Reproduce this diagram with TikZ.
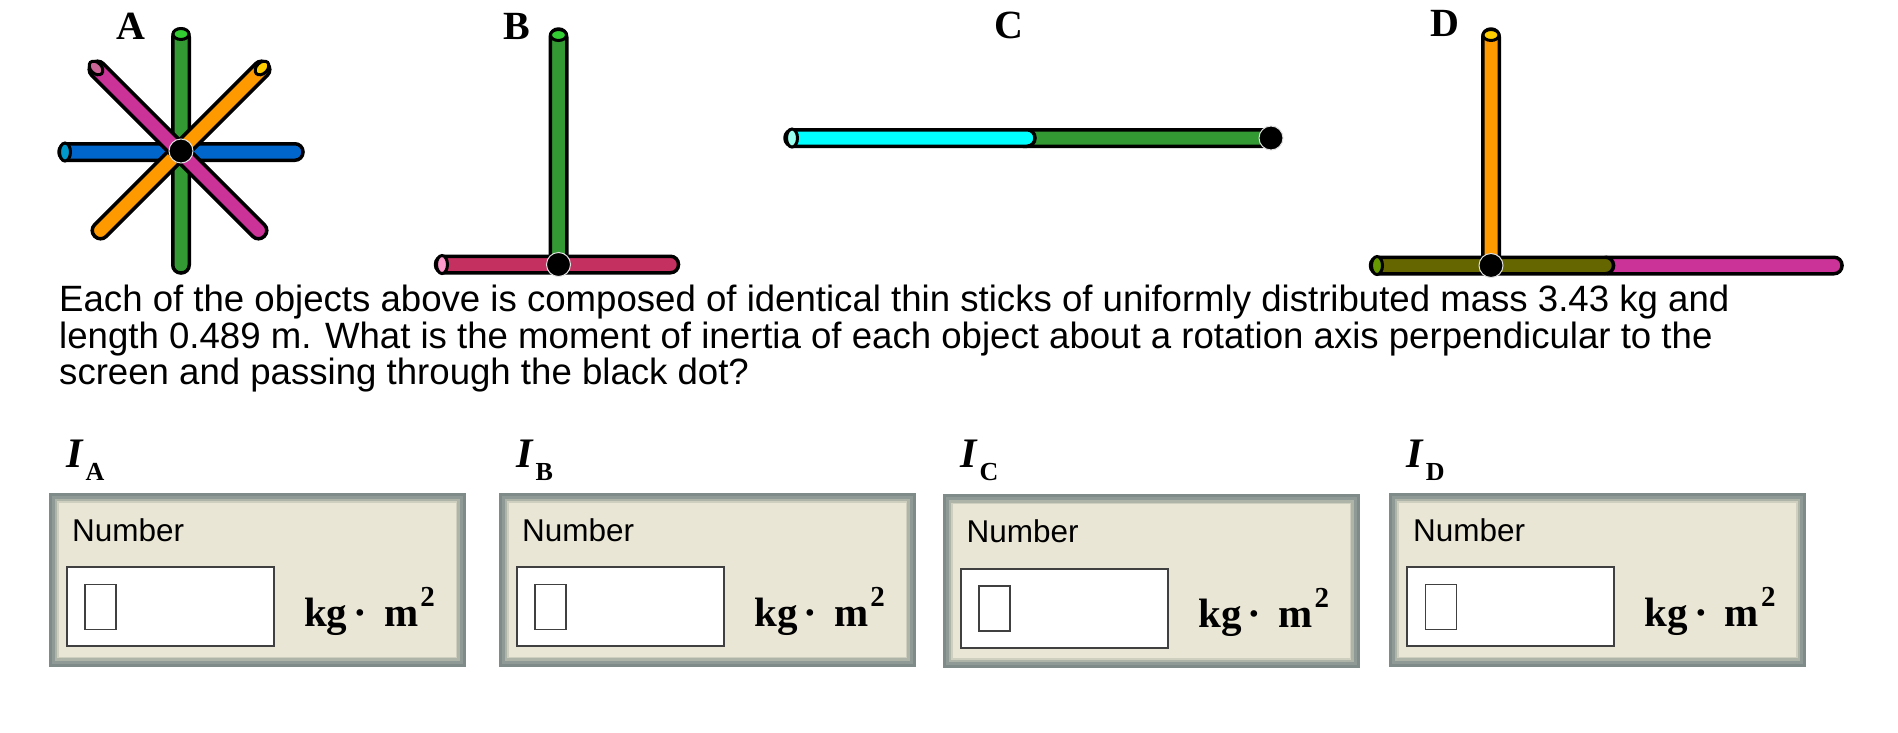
\documentclass[tikz,border=0pt]{standalone}
\usepackage{fontspec}
\usetikzlibrary{shapes.geometric}
\newfontfamily\helv{Liberation Sans}
\newfontfamily\tms{Liberation Serif}
\definecolor{stickgreen}{HTML}{339933}
\definecolor{capgreen}{HTML}{33CC33}
\definecolor{stickblue}{HTML}{0066CC}
\definecolor{capblue}{HTML}{0099CC}
\definecolor{stickmagenta}{HTML}{CC3399}
\definecolor{capmagenta}{HTML}{CC6699}
\definecolor{stickorange}{HTML}{FF9900}
\definecolor{capyellow}{HTML}{FFCC00}
\definecolor{stickcrimson}{HTML}{C43060}
\definecolor{cappink}{HTML}{FF99CC}
\definecolor{stickcyan}{HTML}{00FFFF}
\definecolor{capcyan}{HTML}{99FFEE}
\definecolor{stickolive}{HTML}{666600}
\definecolor{capolive}{HTML}{669900}
\definecolor{panelbeige}{HTML}{EAE6D6}
\definecolor{bevelone}{HTML}{7E8B89}
\definecolor{beveltwo}{HTML}{8F9A96}
\definecolor{bevelthree}{HTML}{AEB4A8}
\definecolor{bevelfour}{HTML}{CFCFC0}
\tikzset{
  stick/.style={rectangle, draw=black, line width=3.5pt, rounded corners=8pt, inner sep=0pt, minimum height=16.5pt},
  stickend/.style={ellipse, draw=black, line width=3pt, inner sep=0pt},
  pivot/.style={circle, fill=black, draw=black!12, line width=1pt, inner sep=0pt, minimum size=24pt},
  letter/.style={font=\tms\bfseries\fontsize{40}{40}\selectfont, inner sep=0pt},
  panel/.style={rectangle, inner sep=0pt, minimum width=397pt, minimum height=154pt, fill=panelbeige,
    preaction={draw=bevelone, line width=20pt},
    preaction={draw=beveltwo, line width=14pt},
    preaction={draw=bevelthree, line width=8pt},
    preaction={draw=bevelfour, line width=3.5pt}},
  field/.style={rectangle, draw=black!75, fill=white, line width=2pt, inner sep=0pt, minimum width=207pt, minimum height=79pt},
  glyphbox/.style={rectangle, draw=black!75, fill=white, line width=1.8pt, inner sep=0pt, minimum width=31pt, minimum height=45pt},
  numlabel/.style={font=\helv\fontsize{31.5}{31.5}\selectfont, inner sep=0pt, anchor=base west},
  unitlabel/.style={font=\tms\bfseries\fontsize{41}{41}\selectfont, inner sep=0pt, anchor=base west},
  symlabel/.style={font=\tms\bfseries\fontsize{42}{42}\selectfont, inner sep=0pt, anchor=base west}
}
\newcommand{\unitkgm}{kg\hspace{6pt}·\hspace{17pt}m\hspace{2pt}\raisebox{20pt}{\fontsize{29}{29}\selectfont 2}}
\newcommand{\momI}[1]{\textit{I}\hspace{2pt}\raisebox{-13pt}{\fontsize{26}{26}\selectfont #1}}

\begin{document}
\begin{tikzpicture}[x=1pt, y=-1pt]
\useasboundingbox (0,0) rectangle (1898,732);

\node[letter] (Aname) at (131,26) {A};
\node[stick, fill=stickblue, minimum width=244pt] (Ablue) at (181,152) {};
\node[stickend, fill=capblue, minimum width=11pt, minimum height=18pt] (Abluecap) at (65,152) {};
\node[stick, fill=stickgreen, minimum width=244pt, rotate=90] (Agreen) at (181,151) {};
\node[stickend, fill=capgreen, minimum width=16pt, minimum height=11pt] (Agreencap) at (181,34) {};
\node[stick, fill=stickorange, minimum width=244pt, rotate=45] (Aorange) at (181,150) {};
\node[stickend, fill=capyellow, minimum width=16pt, minimum height=11pt, rotate=45] (Aorangecap) at (262,68) {};
\node[stick, fill=stickmagenta, minimum width=244pt, rotate=-45] (Amagenta) at (178,150) {};
\node[stickend, fill=capmagenta, minimum width=16pt, minimum height=11pt, rotate=-45] (Amagentacap) at (96,68) {};
\node[pivot] (Adot) at (181,151) {};

\node[letter] (Bname) at (517,26) {B};
\node[stick, fill=stickgreen, minimum width=236pt, rotate=90] (Bgreen) at (558.5,147) {};
\node[stickend, fill=capgreen, minimum width=16pt, minimum height=11pt] (Bgreencap) at (558.5,35) {};
\node[stick, fill=stickcrimson, minimum width=243pt] (Bcrimson) at (557,264.5) {};
\node[stickend, fill=cappink, minimum width=11pt, minimum height=18pt] (Bcrimsoncap) at (442,264.5) {};
\node[pivot] (Bdot) at (558.5,264.5) {};

\node[letter] (Cname) at (1009,25) {C};
\node[stick, fill=stickgreen, minimum width=256pt] (Cgreen) at (1143,138) {};
\node[stick, fill=stickcyan, minimum width=250pt] (Ccyan) at (910,138) {};
\node[stickend, fill=capcyan, minimum width=11pt, minimum height=18pt] (Ccyancap) at (792,138) {};
\node[pivot] (Cdot) at (1271,138) {};

\node[letter] (Dname) at (1445,23) {D};
\node[stick, fill=stickorange, minimum width=236pt, rotate=90] (Dorange) at (1491,147) {};
\node[stickend, fill=capyellow, minimum width=16pt, minimum height=11pt] (Dorangecap) at (1491,35) {};
\node[stick, fill=stickmagenta, minimum width=243pt] (Dmagenta) at (1720.5,265.5) {};
\node[stick, fill=stickolive, minimum width=243pt] (Dolive) at (1492,265.5) {};
\node[stickend, fill=capolive, minimum width=11pt, minimum height=18pt] (Dolivecap) at (1377,265.5) {};
\node[pivot] (Ddot) at (1491,265.5) {};

\node[font=\helv\fontsize{36.6}{36.4}\selectfont, align=left, inner sep=0pt, anchor=north west] (question) at (59,285)
  {Each of the objects above is composed of identical thin sticks of uniformly distributed mass 3.43 kg and\\
   length 0.489 m. What is the moment of inertia of each object about a rotation axis perpendicular to the\\
   screen and passing through the black dot?};

\node[symlabel] (Asym) at (66,467.7) {\momI{A}};
\node[panel] (Apanel) at (257,579.7) {};
\node[numlabel] (Anum) at (72,541) {Number};
\node[field] (Afield) at (170.2,606.8) {};
\node[glyphbox] (Aglyph) at (100.2,607) {};
\node[unitlabel] (Aunit) at (304,626) {\unitkgm};

\node[symlabel] (Bsym) at (516,467.7) {\momI{B}};
\node[panel] (Bpanel) at (707,579.7) {};
\node[numlabel] (Bnum) at (522,541) {Number};
\node[field] (Bfield) at (620.2,606.8) {};
\node[glyphbox] (Bglyph) at (550.2,607) {};
\node[unitlabel] (Bunit) at (754,626) {\unitkgm};

\node[symlabel] (Csym) at (960,467.7) {\momI{C}};
\node[panel] (Cpanel) at (1151,581.3) {};
\node[numlabel] (Cnum) at (966.4,542.6) {Number};
\node[field] (Cfield) at (1064.6,608.4) {};
\node[glyphbox] (Cglyph) at (994.6,608.6) {};
\node[unitlabel] (Cunit) at (1198.4,627.6) {\unitkgm};

\node[symlabel] (Dsym) at (1406,467.7) {\momI{D}};
\node[panel] (Dpanel) at (1597.7,579.7) {};
\node[numlabel] (Dnum) at (1413,541) {Number};
\node[field] (Dfield) at (1510.9,606.8) {};
\node[glyphbox] (Dglyph) at (1440.9,607) {};
\node[unitlabel] (Dunit) at (1644.7,626) {\unitkgm};

\end{tikzpicture}
\end{document}
